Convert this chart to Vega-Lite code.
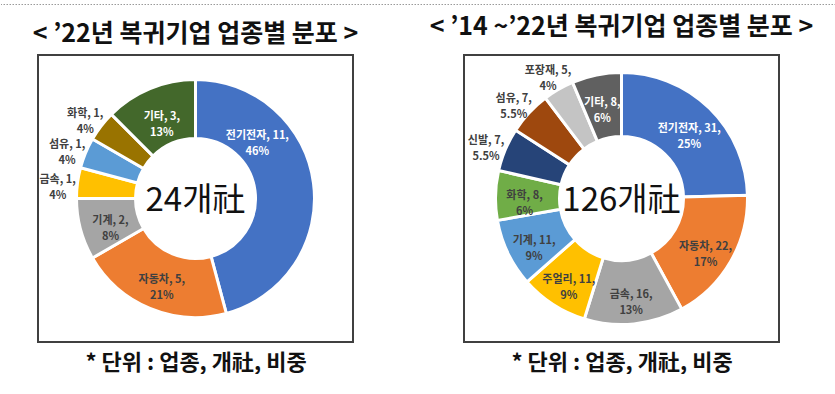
{
  "$schema": "https://vega.github.io/schema/vega-lite/v6.json",
  "padding": {"top": 4, "left": 0, "right": 0, "bottom": 0},
  "background": "white",
  "config": {"font": "Noto Sans CJK KR"},
  "bounds": "flush",
  "columns": 4,
  "spacing": {"row": 50, "column": 0},
  "resolve": {"scale": {"color": "independent", "theta": "independent", "x": "independent", "y": "independent"}},
  "concat": [
    {
      "width": 37, "height": 1, "view": {"stroke": null},
      "data": {"values": [{"v": 0}]},
      "mark": {"type": "rule", "strokeDash": [1.5, 1.5], "color": "#9a9a9a", "strokeWidth": 1},
      "encoding": {"y": {"field": "v", "type": "quantitative", "axis": null}}
    },
    {
      "width": 315, "height": 1, "view": {"stroke": null},
      "data": {"values": [{"v": 0}]},
      "mark": {"type": "rule", "strokeDash": [1.5, 1.5], "color": "#9a9a9a", "strokeWidth": 1},
      "encoding": {"y": {"field": "v", "type": "quantitative", "axis": null}}
    },
    {
      "width": 111, "height": 1, "view": {"stroke": null},
      "data": {"values": [{"v": 0}]},
      "mark": {"type": "rule", "strokeDash": [1.5, 1.5], "color": "#9a9a9a", "strokeWidth": 1},
      "encoding": {"y": {"field": "v", "type": "quantitative", "axis": null}}
    },
    {
      "width": 372, "height": 1, "view": {"stroke": null},
      "data": {"values": [{"v": 0}]},
      "mark": {"type": "rule", "strokeDash": [1.5, 1.5], "color": "#9a9a9a", "strokeWidth": 1},
      "encoding": {"y": {"field": "v", "type": "quantitative", "axis": null}}
    },
    {
      "width": 37, "height": 1, "view": {"stroke": null},
      "data": {"values": [{"t": ""}]},
      "mark": {"type": "text"},
      "encoding": {"text": {"field": "t", "type": "nominal"}}
    },
    {
      "width": 315,
      "height": 287,
      "view": {"stroke": "#404040", "strokeWidth": 2},
      "title": {"text": "< ’22년 복귀기업 업종별 분포 >", "fontSize": 25, "fontWeight": "bold", "color": "#111111", "offset": 8, "anchor": "middle"},
      "data": {"values": [
        {"i": 1, "cat": "전기전자", "n": 11, "lab": "전기전자, 11,\n46%"},
        {"i": 2, "cat": "자동차", "n": 5, "lab": "자동차, 5,\n21%"},
        {"i": 3, "cat": "기계", "n": 2, "lab": "기계, 2,\n8%"},
        {"i": 4, "cat": "금속", "n": 1, "lab": "금속, 1,\n4%"},
        {"i": 5, "cat": "섬유", "n": 1, "lab": "섬유, 1,\n4%"},
        {"i": 6, "cat": "화학", "n": 1, "lab": "화학, 1,\n4%"},
        {"i": 7, "cat": "기타", "n": 3, "lab": "기타, 3,\n13%"}
      ]},
      "layer": [
        {
          "mark": {"type": "arc", "outerRadius": 119, "innerRadius": 60, "stroke": "white", "strokeWidth": 3},
          "encoding": {
            "theta": {"field": "n", "type": "quantitative", "stack": true},
            "order": {"field": "i", "type": "quantitative"},
            "color": {"field": "cat", "type": "nominal", "legend": null, "scale": {"domain": ["전기전자", "자동차", "기계", "금속", "섬유", "화학", "기타"], "range": ["#4472C4", "#ED7D31", "#A5A5A5", "#FFC000", "#5B9BD5", "#997300", "#43682B"]}}
          }
        },
        {
          "mark": {"type": "text", "radius": 88, "fontSize": 11, "fontWeight": "bold", "lineBreak": "\n", "lineHeight": 16, "align": "center", "baseline": "middle"},
          "encoding": {
            "theta": {"field": "n", "type": "quantitative", "stack": true},
            "order": {"field": "i", "type": "quantitative"},
            "text": {"condition": {"test": "datum.n >= 2 && datum.cat != '전기전자'", "field": "lab"}, "value": ""},
            "color": {"condition": {"test": "datum.cat == '기타'", "value": "white"}, "value": "#404040"}
          }
        },
        {
          "mark": {"type": "text", "radius": 88, "thetaOffset": -0.66, "fontSize": 11, "fontWeight": "bold", "lineBreak": "\n", "lineHeight": 16, "align": "center", "baseline": "middle", "color": "white"},
          "encoding": {
            "theta": {"field": "n", "type": "quantitative", "stack": true},
            "order": {"field": "i", "type": "quantitative"},
            "text": {"condition": {"test": "datum.cat == '전기전자'", "field": "lab"}, "value": ""}
          }
        },
        {
          "mark": {"type": "text", "radius": 139, "fontSize": 11, "fontWeight": "bold", "lineBreak": "\n", "lineHeight": 16, "align": "center", "baseline": "middle", "color": "#404040"},
          "encoding": {
            "theta": {"field": "n", "type": "quantitative", "stack": true},
            "order": {"field": "i", "type": "quantitative"},
            "text": {"condition": {"test": "datum.n < 2", "field": "lab"}, "value": ""}
          }
        },
        {
          "data": {"values": [{"t": "24개社"}]},
          "mark": {"type": "text", "fontSize": 33, "color": "#111111", "align": "center", "baseline": "middle", "dy": 2},
          "encoding": {
            "text": {"field": "t", "type": "nominal"},
            "x": {"field": "t", "type": "nominal", "axis": {"title": "* 단위 : 업종, 개社, 비중", "domain": false, "ticks": false, "labels": false, "grid": false, "titleFontSize": 22, "titleFontWeight": "bold", "titleColor": "#111111", "titlePadding": 10}}
          }
        }
      ]
    },
    {
      "width": 111, "height": 1, "view": {"stroke": null},
      "data": {"values": [{"t": ""}]},
      "mark": {"type": "text"},
      "encoding": {"text": {"field": "t", "type": "nominal"}}
    },
    {
      "width": 315,
      "height": 287,
      "view": {"stroke": "#404040", "strokeWidth": 2},
      "title": {"text": "< ’14 ~’22년 복귀기업 업종별 분포 >", "fontSize": 25, "fontWeight": "bold", "color": "#111111", "offset": 8, "anchor": "middle"},
      "data": {"values": [
        {"i": 1, "cat": "전기전자", "n": 31, "lab": "전기전자, 31,\n25%"},
        {"i": 2, "cat": "자동차", "n": 22, "lab": "자동차, 22,\n17%"},
        {"i": 3, "cat": "금속", "n": 16, "lab": "금속, 16,\n13%"},
        {"i": 4, "cat": "주얼리", "n": 11, "lab": "주얼리, 11,\n9%"},
        {"i": 5, "cat": "기계", "n": 11, "lab": "기계, 11,\n9%"},
        {"i": 6, "cat": "화학", "n": 8, "lab": "화학, 8,\n6%"},
        {"i": 7, "cat": "신발", "n": 7, "lab": "신발, 7,\n5.5%"},
        {"i": 8, "cat": "섬유", "n": 7, "lab": "섬유, 7,\n5.5%"},
        {"i": 9, "cat": "포장재", "n": 5, "lab": "포장재, 5,\n4%"},
        {"i": 10, "cat": "기타", "n": 8, "lab": "기타, 8,\n6%"}
      ]},
      "layer": [
        {
          "mark": {"type": "arc", "outerRadius": 126, "innerRadius": 62, "stroke": "white", "strokeWidth": 3},
          "encoding": {
            "theta": {"field": "n", "type": "quantitative", "stack": true},
            "order": {"field": "i", "type": "quantitative"},
            "color": {"field": "cat", "type": "nominal", "legend": null, "scale": {"domain": ["전기전자", "자동차", "금속", "주얼리", "기계", "화학", "신발", "섬유", "포장재", "기타"], "range": ["#4472C4", "#ED7D31", "#A5A5A5", "#FFC000", "#5B9BD5", "#70AD47", "#264478", "#9E480E", "#C4C4C4", "#606060"]}}
          }
        },
        {
          "mark": {"type": "text", "radius": 97, "fontSize": 11, "fontWeight": "bold", "lineBreak": "\n", "lineHeight": 16, "align": "center", "baseline": "middle"},
          "encoding": {
            "theta": {"field": "n", "type": "quantitative", "stack": true},
            "order": {"field": "i", "type": "quantitative"},
            "text": {"condition": {"test": "datum.n >= 8", "field": "lab"}, "value": ""},
            "color": {"condition": {"test": "datum.cat == '전기전자' || datum.cat == '기타'", "value": "white"}, "value": "#404040"}
          }
        },
        {
          "mark": {"type": "text", "radius": 147, "fontSize": 11, "fontWeight": "bold", "lineBreak": "\n", "lineHeight": 16, "align": "center", "baseline": "middle", "color": "#404040"},
          "encoding": {
            "theta": {"field": "n", "type": "quantitative", "stack": true},
            "order": {"field": "i", "type": "quantitative"},
            "text": {"condition": {"test": "datum.n < 8", "field": "lab"}, "value": ""}
          }
        },
        {
          "data": {"values": [{"t": "126개社"}]},
          "mark": {"type": "text", "fontSize": 33, "color": "#111111", "align": "center", "baseline": "middle", "dy": 2},
          "encoding": {
            "text": {"field": "t", "type": "nominal"},
            "x": {"field": "t", "type": "nominal", "axis": {"title": "* 단위 : 업종, 개社, 비중", "domain": false, "ticks": false, "labels": false, "grid": false, "titleFontSize": 22, "titleFontWeight": "bold", "titleColor": "#111111", "titlePadding": 10}}
          }
        }
      ]
    }
  ]
}
